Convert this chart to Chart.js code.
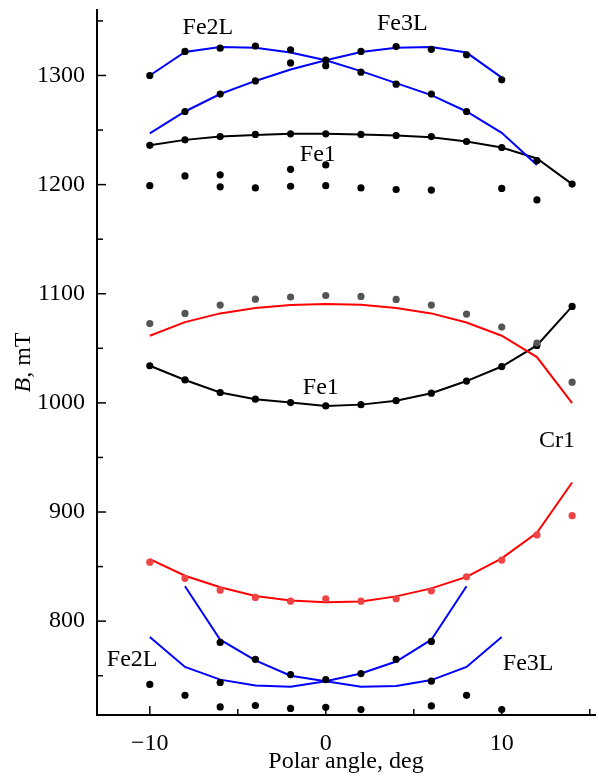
<!DOCTYPE html>
<html>
<head>
<meta charset="utf-8">
<script src="https://cdn.jsdelivr.net/npm/chart.js@4.4.1/dist/chart.umd.min.js"></script>
<style>
  html, body { margin: 0; padding: 0; background: #fff; }
  canvas { display: block; }
</style>
</head>
<body>
<canvas id="mainChart" width="599" height="776"></canvas>
<script>
const angles = [-10, -8, -6, -4, -2, 0, 2, 4, 6, 8, 10, 12, 14];

// fitted curves
const fe2LTopFit = [1300, 1321.5, 1326, 1325.5, 1321, 1314, 1304, 1293, 1282, 1267, 1247.5, 1218, null];
const fe3LTopFit = [1247, 1267, 1283, 1295, 1305.5, 1314, 1321.5, 1325.5, 1326, 1321, 1298, null, null];
const fe1TopFit = [1236, 1241, 1244, 1245.5, 1246.5, 1246.5, 1246, 1245, 1243.5, 1239.5, 1234, 1224, 1200.5];
const cr1TopFit = [1061.5, 1074, 1082, 1087, 1089.6, 1090.5, 1090, 1087, 1082, 1073.7, 1061.5, 1042, 999.7];
const fe1MidFit = [1034, 1021, 1009.5, 1003.4, 1000.3, 997.2, 998.4, 1002, 1008.9, 1020, 1033.3, 1052.6, 1088.4];
const cr1LowFit = [856.9, 841.6, 831, 823, 819, 817.4, 818, 822.7, 830, 840.6, 857.5, 881, 927];
const fe2LLowFit = [null, 832, 783, 764, 750, 745, 740, 740.5, 746, 758, 785.5, null, null];
const fe3LLowFit = [785.5, 758, 746.4, 741, 740, 745, 752, 763, 783, 832, null, null, null];

// measured points
const topDots1 = [1300, 1322, 1325, 1327, 1323.5, 1314, 1322, 1326.5, 1324, 1319, 1296, null, null];
const topDots2 = [null, 1267, 1283, 1295, 1311.5, 1309, 1303, 1292, 1283, 1267, null, null, null];
const fe1TopDots = [1236, 1241, 1244, 1246, 1246.5, 1246.5, 1246, 1245, 1244, 1239.5, 1234, 1222, 1200.5];
const dots1200a = [1199, 1208, 1209, 1197, 1214, 1218, 1197, 1195.5, 1195, null, 1196.5, 1186, null];
const dots1200b = [null, null, 1198, null, 1198.5, 1199, null, null, null, null, null, null, null];
const grayDots = [1072.7, 1082, 1089.6, 1095, 1097, 1098.4, 1097.5, 1094.8, 1089.6, 1081.4, 1069.5, 1054.8, 1019];
const fe1MidDots = [1034, 1021, 1009.5, 1003.4, 1000.3, 997.2, 998.4, 1002, 1008.9, 1020, 1033.3, 1052.6, 1088.4];
const redDots = [854, 839.2, 828.4, 821.7, 818.3, 820.5, 818.3, 820.5, 827.8, 840.6, 856, 879, 896.6];
const lowDots1 = [null, null, 780.5, 765, 751, 746.4, 752, 765, 781.4, null, null, null, null];
const lowDots2 = [742, 732, 743.8, null, null, null, null, null, 745, 732, null, null, null];
const lowDots3 = [null, null, 721.4, 722.7, 720, 721, 719, null, 722.3, null, 719, null, null];

// axes
const xTicks = [-10, 0, 10];
const xMinorTicks = [-5, 5, 15];
const yTicks = [800, 900, 1000, 1100, 1200, 1300];
const yMinorTicks = [750, 850, 950, 1050, 1150, 1250, 1350];

// curve labels
const labelTexts = ['Fe2L', 'Fe3L', 'Fe1', 'Fe1', 'Cr1', 'Fe2L', 'Fe3L'];
const labelX = [-6.7, 4.35, -0.45, -0.28, 13.14, -11.0, 11.5];
const labelY = [1344, 1347.5, 1227, 1013.5, 965, 765, 761];

const FONT = "'Liberation Serif', 'Times New Roman', serif";

function pts(arr) {
    return angles.map((a, i) => ({ x: a, y: arr[i] })).filter(p => p.y !== null);
}
function lineSet(arr, color) {
    return { data: pts(arr), showLine: true, borderColor: color, borderWidth: 2, pointRadius: 0, tension: 0, order: 2 };
}
function dotSet(arr, color) {
    return { data: pts(arr), showLine: false, pointRadius: 3.6, backgroundColor: color, borderWidth: 0, order: 1 };
}
function fmt(v) {
    return v < 0 ? '\u2212' + Math.abs(v) : String(v);
}

const decorations = {
    id: 'decorations',
    afterDraw: (chart) => {
        const ctx = chart.ctx;
        const xs = chart.scales.x, ys = chart.scales.y;
        const area = chart.chartArea;
        ctx.save();
        ctx.strokeStyle = '#000';
        ctx.lineWidth = 1.5;
        // inward ticks
        yTicks.concat(yMinorTicks).forEach(v => {
            const y = ys.getPixelForValue(v);
            const len = yTicks.includes(v) ? 9 : 6;
            ctx.beginPath();
            ctx.moveTo(area.left, y);
            ctx.lineTo(area.left + len, y);
            ctx.stroke();
        });
        xTicks.concat(xMinorTicks).forEach(v => {
            const x = xs.getPixelForValue(v);
            const len = xTicks.includes(v) ? 9 : 6;
            ctx.beginPath();
            ctx.moveTo(x, area.bottom);
            ctx.lineTo(x, area.bottom - len);
            ctx.stroke();
        });

        // curve labels
        ctx.fillStyle = '#000';
        ctx.font = '24px ' + FONT;
        ctx.textAlign = 'center';
        ctx.textBaseline = 'middle';
        labelTexts.forEach((t, i) => {
            ctx.fillText(t, xs.getPixelForValue(labelX[i]), ys.getPixelForValue(labelY[i]));
        });

        // y axis title, italic B
        const midY = (area.top + area.bottom) / 2;
        ctx.translate(30, midY);
        ctx.rotate(-Math.PI / 2);
        ctx.textAlign = 'left';
        ctx.textBaseline = 'alphabetic';
        const italic = 'italic 24px ' + FONT;
        const normal = '24px ' + FONT;
        ctx.font = italic;
        const wB = ctx.measureText('B').width;
        ctx.font = normal;
        const wRest = ctx.measureText(', mT').width;
        const start = -(wB + wRest) / 2;
        ctx.font = italic;
        ctx.fillText('B', start, 0);
        ctx.font = normal;
        ctx.fillText(', mT', start + wB, 0);
        ctx.restore();
    }
};

document.addEventListener('DOMContentLoaded', function () {
    const ctx = document.getElementById('mainChart').getContext('2d');

    new Chart(ctx, {
        type: 'scatter',
        data: {
            datasets: [
                lineSet(fe2LTopFit, '#0000ff'),
                lineSet(fe3LTopFit, '#0000ff'),
                lineSet(fe1TopFit, '#000000'),
                lineSet(cr1TopFit, '#ff0000'),
                lineSet(fe1MidFit, '#000000'),
                lineSet(cr1LowFit, '#ff0000'),
                lineSet(fe2LLowFit, '#0000ff'),
                lineSet(fe3LLowFit, '#0000ff'),
                dotSet(topDots1, '#000000'),
                dotSet(topDots2, '#000000'),
                dotSet(fe1TopDots, '#000000'),
                dotSet(dots1200a, '#000000'),
                dotSet(dots1200b, '#000000'),
                dotSet(grayDots, '#555555'),
                dotSet(fe1MidDots, '#000000'),
                dotSet(redDots, '#ee4444'),
                dotSet(lowDots1, '#000000'),
                dotSet(lowDots2, '#000000'),
                dotSet(lowDots3, '#000000')
            ]
        },
        options: {
            responsive: false,
            animation: false,
            events: [],
            devicePixelRatio: 1,
            layout: { padding: { top: 10, right: 0, left: 0, bottom: 0 } },
            plugins: {
                legend: { display: false },
                tooltip: { enabled: false }
            },
            scales: {
                x: {
                    type: 'linear',
                    min: -13,
                    max: 15.3,
                    afterBuildTicks: (scale) => { scale.ticks = xTicks.map(v => ({ value: v })); },
                    afterFit: (scale) => {
                        scale.height = 61;
                        scale.paddingLeft = 0;
                        scale.paddingRight = 0;
                    },
                    grid: { display: false, drawTicks: false },
                    border: { display: true, color: '#000', width: 2 },
                    ticks: {
                        padding: 14,
                        color: '#000',
                        font: { family: FONT, size: 24 },
                        maxRotation: 0,
                        callback: (v) => fmt(v)
                    },
                    title: {
                        display: true,
                        text: 'Polar angle, deg',
                        color: '#000',
                        font: { family: FONT, size: 24 },
                        padding: { top: 0, bottom: 0 }
                    }
                },
                y: {
                    type: 'linear',
                    min: 714,
                    max: 1360,
                    afterBuildTicks: (scale) => { scale.ticks = yTicks.map(v => ({ value: v })); },
                    afterFit: (scale) => {
                        scale.width = 97;
                        scale.paddingTop = 0;
                        scale.paddingBottom = 0;
                    },
                    grid: { display: false, drawTicks: false },
                    border: { display: true, color: '#000', width: 2 },
                    ticks: {
                        padding: 12,
                        color: '#000',
                        font: { family: FONT, size: 24 },
                        callback: (v) => fmt(v)
                    }
                }
            }
        },
        plugins: [decorations]
    });
});
</script>
</body>
</html>
